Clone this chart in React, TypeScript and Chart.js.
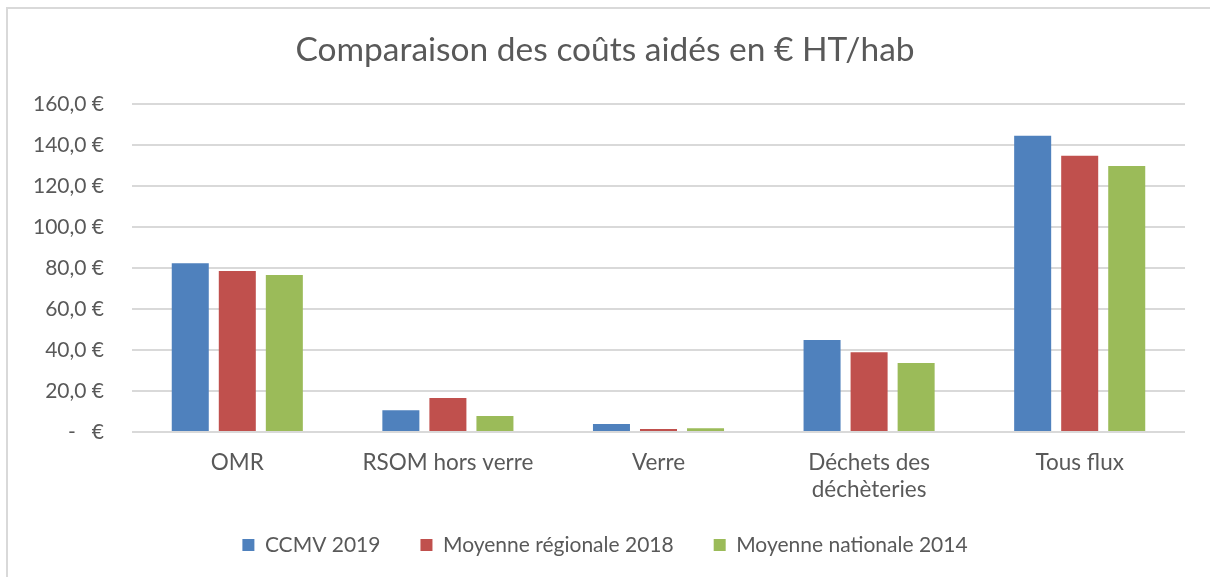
import React, { useEffect, useRef } from "react";
import { Chart, registerables } from "chart.js";

Chart.register(...registerables);

const categories: (string | string[])[] = ["OMR", "RSOM hors verre", "Verre", ["Déchets des", "déchèteries"], "Tous flux"];
const seriesNames = ["CCMV 2019", "Moyenne régionale 2018", "Moyenne nationale 2014"];
const ccmv2019 = [82.3, 10.6, 3.9, 44.9, 144.5];
const regionale2018 = [78.5, 16.6, 1.5, 38.9, 134.8];
const nationale2014 = [76.6, 7.8, 1.8, 33.7, 129.8];
const yTicks = [0, 20, 40, 60, 80, 100, 120, 140, 160];
const titleText = "Comparaison des coûts aidés en € HT/hab";

const colors = ["#4F81BD", "#C0504D", "#9BBB59"];
const textColor = "#595959";
const fontFamily = "Lato, 'Open Sans', sans-serif";

function fmt(v: number): string {
  if (v === 0) return "-   €";
  return v.toFixed(1).replace(".", ",") + " €";
}

const legendHeightPlugin = {
  id: "legendHeight",
  afterInit(chart: any) {
    const lg = chart.legend;
    if (!lg) return;
    const orig = lg.fit.bind(lg);
    lg.fit = () => {
      orig();
      lg.height = 82.5;
    };
  },
};

export default function App() {
  const ref = useRef<HTMLCanvasElement | null>(null);
  useEffect(() => {
    if (!ref.current) return;
    const chart = new Chart(ref.current, {
      type: "bar",
      data: {
        labels: categories,
        datasets: [ccmv2019, regionale2018, nationale2014].map((d, i) => ({
          label: seriesNames[i],
          data: d,
          backgroundColor: colors[i],
          borderWidth: 0,
          categoryPercentage: 0.67,
          barPercentage: 0.787,
        })),
      },
      plugins: [legendHeightPlugin],
      options: {
        responsive: false,
        animation: false,
        layout: { padding: { left: 25, right: 25, top: 0, bottom: 0 } },
        plugins: {
          title: {
            display: true,
            text: titleText,
            color: textColor,
            font: { family: fontFamily, size: 33.5, weight: "normal" },
            padding: { top: 30, bottom: 33.8 },
          },
          legend: {
            display: true,
            position: "bottom",
            labels: {
              boxWidth: 12,
              boxHeight: 12,
              padding: 40,
              color: textColor,
              font: { family: fontFamily, size: 21 },
            },
          },
          tooltip: { enabled: false },
        },
        scales: {
          x: {
            grid: { display: false, drawTicks: false },
            border: { display: false },
            ticks: {
              color: textColor,
              font: { family: fontFamily, size: 22.5 },
              padding: 17,
              maxRotation: 0,
              autoSkip: false,
            },
            afterFit: (s: any) => {
              s.height = 62.5;
              s._computeLabelArea = () => undefined;
            },
          },
          y: {
            min: 0,
            max: 160,
            grid: { color: "#D9D9D9", lineWidth: 2, drawTicks: false },
            border: { display: false },
            afterBuildTicks: (s: any) => {
              s.ticks = yTicks.map((v) => ({ value: v }));
            },
            ticks: {
              color: textColor,
              font: { family: fontFamily, size: 21 },
              padding: 28,
              callback: (v: any) => fmt(Number(v)),
            },
            afterFit: (s: any) => {
              s.width = 107;
            },
          },
        },
      },
    });
    return () => chart.destroy();
  }, []);

  return (
    <div style={{ position: "absolute", left: 0, top: 0, width: 1210, height: 577, overflow: "hidden", background: "#fff" }}>
      <div
        style={{
          position: "absolute",
          left: 6,
          top: 7,
          width: 1204,
          height: 570,
          borderLeft: "2px solid #D9D9D9",
          borderTop: "2px solid #D9D9D9",
          boxSizing: "border-box",
        }}
      />
      <canvas ref={ref} width={1210} height={577} style={{ position: "absolute", left: 0, top: 0 }} />
    </div>
  );
}
